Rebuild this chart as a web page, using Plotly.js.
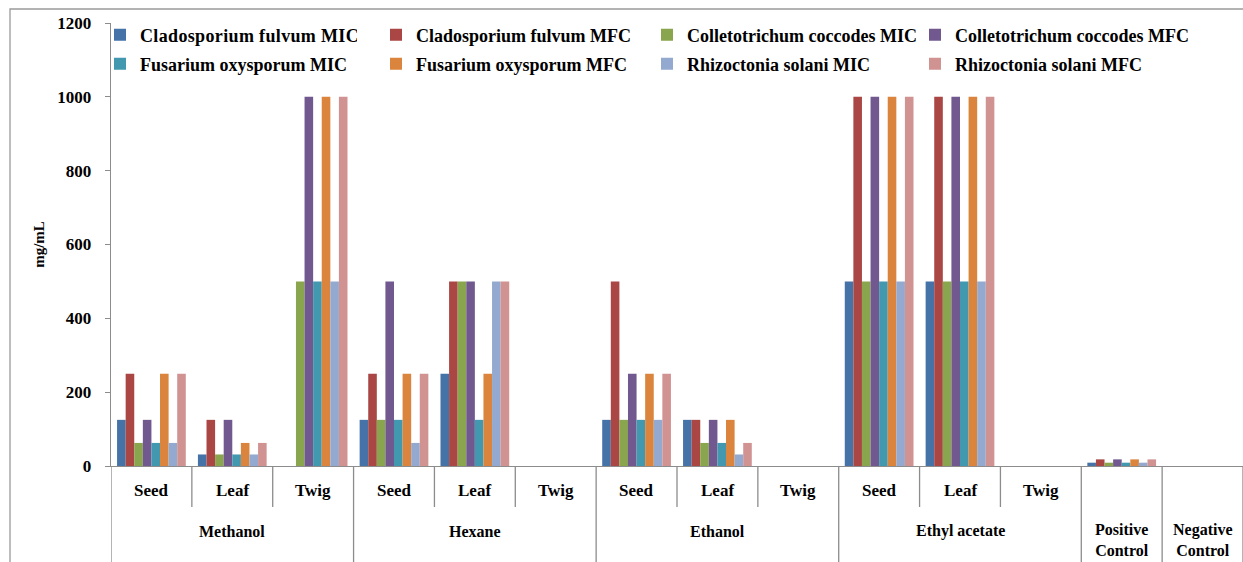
<!DOCTYPE html>
<html>
<head>
<meta charset="utf-8">
<script src="https://cdn.plot.ly/plotly-3.0.1.min.js"></script>
<style>html,body{margin:0;padding:0;background:#fff;}#chart{width:1243px;height:562px;}
#chart .legendtext{letter-spacing:0.35px;}</style>
</head>
<body>
<div id="chart"></div>
<script>
// Slot (sub-category) labels and group labels
const slotLabels = ["Seed","Leaf","Twig","Seed","Leaf","Twig","Seed","Leaf","Twig","Seed","Leaf","Twig","",""];
const groupLabels = ["Methanol","Hexane","Ethanol","Ethyl acetate","Positive<br>Control","Negative<br>Control"];
const groupSizes = [3,3,3,3,1,1];

const seriesNames = ["Cladosporium fulvum MIC","Cladosporium fulvum MFC","Colletotrichum coccodes MIC","Colletotrichum coccodes MFC",
                     "Fusarium oxysporum MIC","Fusarium oxysporum MFC","Rhizoctonia solani MIC","Rhizoctonia solani MFC"];
const seriesColors = ["#4572A7","#AA4643","#89A54E","#71588F","#4198AF","#DB843D","#93A9CF","#D19392"];

const cfMIC = [125,31.25,null, 125,250,null, 125,125,null, 500,500,null, 9,null];
const cfMFC = [250,125,null, 250,500,null, 500,125,null, 1000,1000,null, 18,null];
const ccMIC = [62.5,31.25,500, 125,500,null, 125,62.5,null, 500,500,null, 9,null];
const ccMFC = [125,125,1000, 500,500,null, 250,125,null, 1000,1000,null, 18,null];
const foMIC = [62.5,31.25,500, 125,125,null, 125,62.5,null, 500,500,null, 9,null];
const foMFC = [250,62.5,1000, 250,250,null, 250,125,null, 1000,1000,null, 18,null];
const rsMIC = [62.5,31.25,500, 62.5,500,null, 125,31.25,null, 500,500,null, 9,null];
const rsMFC = [250,62.5,1000, 250,500,null, 250,62.5,null, 1000,1000,null, 18,null];

const seriesValues = [cfMIC,cfMFC,ccMIC,ccMFC,foMIC,foMFC,rsMIC,rsMFC];
const yTicks = [0,200,400,600,800,1000,1200];

const FONT = "'Liberation Serif', 'Times New Roman', serif";
const xIdx = slotLabels.map((_, i) => i);

const legendId = k => (k === 0 ? 'legend' : 'legend' + (k + 1));

const traces = seriesValues.map((vals, k) => ({
  type: 'bar',
  name: seriesNames[k],
  x: xIdx,
  y: vals,
  marker: {color: seriesColors[k]},
  legend: legendId(k),
  hoverinfo: 'x+y+name'
}));

// shapes / annotations for the two-level category axis
const shapes = [];
const annotations = [];
const plotH = 562 - 23 - 96;
const plotW = 1243 - 111;
const subDepth = -(507 - 466) / plotH;
const fullDepth = -(562 - 466 + 5) / plotH;
const groupStarts = [];
let s = 0;
groupSizes.forEach(g => { groupStarts.push(s); s += g; });
const groupBoundaries = new Set(groupStarts.concat([s]));
for (let b = 0; b <= slotLabels.length; b++) {
  shapes.push({type:'line', xref:'x', yref:'paper', x0:b-0.5, x1:b-0.5, y0:0,
    y1: groupBoundaries.has(b) ? fullDepth : subDepth, line:{color:'#8c8c8c', width:1.3}});
}
slotLabels.forEach((lab, i) => {
  if (!lab) return;
  annotations.push({xref:'x', yref:'paper', x:i, y:-(490-466)/plotH, text:'<b>'+lab+'</b>', showarrow:false,
    font:{family:FONT, size:17, color:'#000'}, xanchor:'center', yanchor:'middle'});
});
groupLabels.forEach((lab, g) => {
  const center = groupStarts[g] + (groupSizes[g]-1)/2;
  const twoLine = lab.indexOf('<br>') >= 0;
  annotations.push({xref:'x', yref:'paper', x:center, y: twoLine ? -(540-466)/plotH : -(531-466)/plotH,
    text:'<b>'+lab+'</b>', showarrow:false, font:{family:FONT, size:16, color:'#000'},
    xanchor:'center', yanchor:'middle'});
});
// outer chart frame
shapes.push({type:'rect', xref:'paper', yref:'paper', x0:(10-111)/plotW, x1:1.05, y0:-0.6, y1:1+(23-9)/plotH,
  line:{color:'#9a9a9a', width:1.3}, fillcolor:'rgba(0,0,0,0)', layer:'below'});

// legend placement: one single-entry legend per series, 4 columns x 2 rows
const legendColPx = [111, 387, 658, 926];
const legendRowPx = [35, 64];

const layout = {
  width:1243, height:562,
  margin:{l:111, r:0, t:23, b:96},
  paper_bgcolor:'#fff', plot_bgcolor:'#fff',
  barmode:'group', bargap:0.15, bargroupgap:0,
  font:{family:FONT, color:'#000'},
  showlegend:true,
  xaxis:{type:'linear', range:[-0.5, slotLabels.length-0.5], showticklabels:false, ticks:'',
    showgrid:false, zeroline:false, showline:true, linecolor:'#8c8c8c', linewidth:1.3, fixedrange:true},
  yaxis:{range:[0,1200], tickvals:yTicks, ticktext:yTicks.map(v=>'<b>'+v+'</b>'), ticks:'outside', ticklen:5,
    tickcolor:'#8c8c8c', ticklabelstandoff:10, showgrid:false, zeroline:false, showline:true, linecolor:'#8c8c8c',
    linewidth:1.3, tickfont:{family:FONT, size:17, color:'#000'},
    title:{text:'<b>mg/mL</b>', font:{family:FONT, size:15, color:'#000'}, standoff:9}},
  shapes:shapes,
  annotations:annotations
};
seriesNames.forEach((_, k) => {
  const c = k % 4, r = Math.floor(k / 4);
  layout[legendId(k)] = {orientation:'h', xanchor:'left', yanchor:'middle', indentation:-11,
    x:(legendColPx[c]-111)/plotW, y:1-(legendRowPx[r]-23)/plotH,
    font:{family:FONT, size:18, color:'#000', weight:'bold'}, itemwidth:30, bgcolor:'rgba(0,0,0,0)'};
});

Plotly.newPlot('chart', traces, layout, {displayModeBar:false, staticPlot:true});
</script>
</body>
</html>
